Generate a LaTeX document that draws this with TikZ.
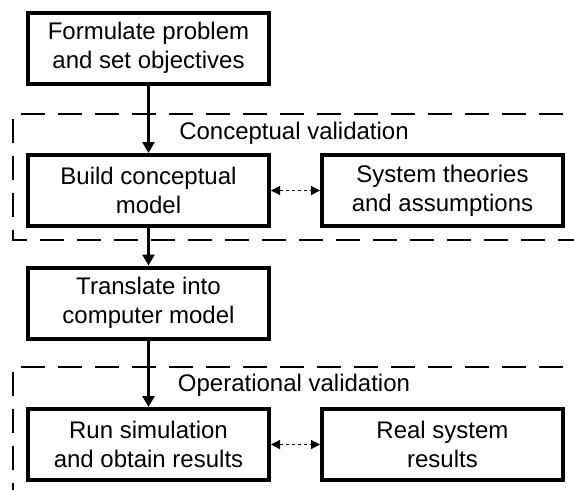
\documentclass[tikz,border=0pt]{standalone}
\usepackage{fontspec}
\setmainfont{Liberation Sans}
\usetikzlibrary{arrows.meta}

\begin{document}
\begin{tikzpicture}[x=0.5pt,y=-0.5pt,
    main_box/.style={draw,line width=2pt,minimum width=120.5pt,minimum height=35.5pt,inner sep=0pt,align=center,font=\fontsize{12}{14.5}\selectfont},
    region_box/.style={draw,line width=1.3pt,dash pattern=on 12pt off 6.5pt},
    region_label/.style={font=\fontsize{12}{14.5}\selectfont},
    flow_arrow/.style={line width=1.3pt,-{Triangle[length=5.5pt,width=6pt]}},
    check_arrow/.style={line width=0.6pt,dash pattern=on 1.5pt off 1.5pt,{Triangle[length=4.5pt,width=4.5pt]}-{Triangle[length=4.5pt,width=4.5pt]}}]
    \useasboundingbox (0,0) rectangle (574,489);
    \clip (0,0) rectangle (574,489);
    % validation regions
    \draw[region_box] (600,114) -- (13,114) -- (13,240) -- (600,240);
    \draw[region_box] (600,367) -- (13,367) -- (13,520);
    \node[region_label] (concept) at (294,133) {Conceptual validation};
    \node[region_label] (operate) at (294,385) {Operational validation};
    % steps
    \node[main_box] (formulate) at (148.5,48) {Formulate problem\\and set objectives};
    \node[main_box] (build) at (148.5,190.5) {Build conceptual\\model};
    \node[main_box] (theory) at (442.5,190.5) {System theories\\and assumptions};
    \node[main_box] (translate) at (148.5,303) {Translate into\\computer model};
    \node[main_box] (run) at (148.5,444.5) {Run simulation\\and obtain results};
    \node[main_box] (real) at (442.5,444.5) {Real system\\results};
    \draw[flow_arrow] (formulate) -- (build);
    \draw[flow_arrow] (build) -- (translate);
    \draw[flow_arrow] (translate) -- (run);
    \draw[check_arrow] (build) -- (theory);
    \draw[check_arrow] (run) -- (real);
\end{tikzpicture}
\end{document}
